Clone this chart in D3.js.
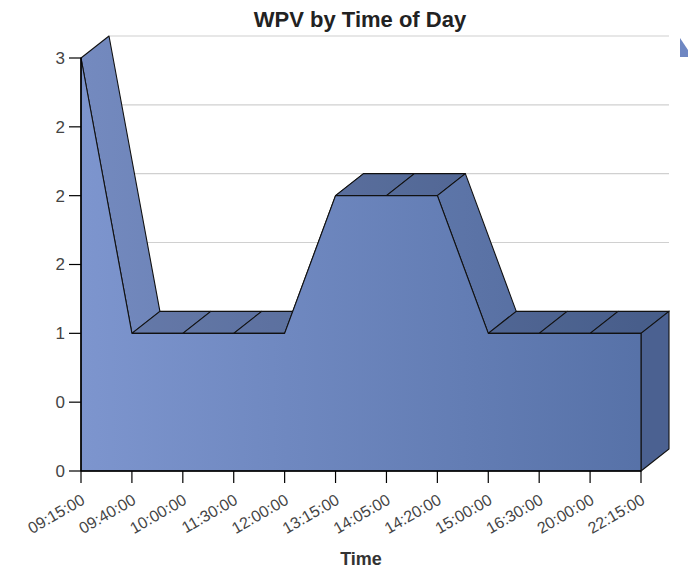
<!DOCTYPE html>
<html>
<head>
<meta charset="utf-8">
<script src="https://cdn.jsdelivr.net/npm/d3@7"></script>
<style>
  body { margin: 0; background: #fff; }
  text { font-family: "Liberation Sans", Arial, sans-serif; }
</style>
</head>
<body>
<div class="canva"></div>
<script>
const times = ['09:15:00', '09:40:00', '10:00:00', '11:30:00', '12:00:00', '13:15:00',
               '14:05:00', '14:20:00', '15:00:00', '16:30:00', '20:00:00', '22:15:00']
const wpv = [3, 1, 1, 1, 1, 2, 2, 2, 1, 1, 1, 1]
const yTicks = [0, 0.5, 1, 1.5, 2, 2.5, 3]
const yTickLabels = ['0', '0', '1', '2', '2', '2', '3']

const width = 688, height = 571
const depth = { x: 28, y: -22 }

const svg = d3.select('.canva').append('svg')
              .attr('width', width)
              .attr('height', height)

const x = d3.scalePoint().domain(times).range([81, 641])
const y = d3.scaleLinear().domain([0, 3]).range([471, 58])

const defs = svg.append('defs')
const grad = defs.append('linearGradient')
                 .attr('id', 'frontGrad')
                 .attr('gradientUnits', 'userSpaceOnUse')
                 .attr('x1', 81).attr('x2', 641 + depth.x)
                 .attr('y1', 0).attr('y2', 0)
grad.append('stop').attr('offset', '0%').attr('stop-color', '#7d95ce')
grad.append('stop').attr('offset', '100%').attr('stop-color', '#5570a6')

// title
svg.append('text')
   .attr('x', 360).attr('y', 27)
   .attr('text-anchor', 'middle')
   .attr('font-size', 22).attr('font-weight', 'bold')
   .attr('fill', '#222')
   .text('WPV by Time of Day')

// back wall grid lines
svg.append('g').selectAll('line')
   .data(yTicks.filter(d => d > 0))
   .enter().append('line')
   .attr('x1', 81 + depth.x).attr('x2', 641 + depth.x)
   .attr('y1', d => y(d) + depth.y).attr('y2', d => y(d) + depth.y)
   .attr('stroke', '#d0d0d0').attr('stroke-width', 1.2)

const pts = times.map((t, i) => [x(t), y(wpv[i])])
const shift = p => [p[0] + depth.x, p[1] + depth.y]

// top faces, left to right
const tops = d3.range(pts.length - 1).map(i => {
  const a = pts[i], b = pts[i + 1]
  return { poly: [a, b, shift(b), shift(a)], flat: wpv[i] === wpv[i + 1] }
})
const topG = svg.append('g')
topG.selectAll('g')
    .data(tops)
    .enter().append('g')
    .each(function(d) {
      const g = d3.select(this)
      const path = 'M' + d.poly.join('L') + 'Z'
      g.append('path').attr('d', path).attr('fill', 'url(#frontGrad)')
      g.append('path').attr('d', path)
       .attr('fill', '#000').attr('fill-opacity', d.flat ? 0.17 : 0.07)
       .attr('stroke', '#111').attr('stroke-width', 1.1).attr('stroke-linejoin', 'round')
    })

// right side face
const last = pts[pts.length - 1]
const base = [last[0], y(0)]
const side = [last, shift(last), shift(base), base]
svg.append('path')
   .attr('d', 'M' + side.join('L') + 'Z')
   .attr('fill', '#4b6191')
   .attr('stroke', '#111').attr('stroke-width', 1.1)

// front face
const area = d3.area()
               .x((d, i) => x(times[i]))
               .y0(y(0))
               .y1(d => y(d))
svg.append('path')
   .datum(wpv)
   .attr('d', area)
   .attr('fill', 'url(#frontGrad)')
   .attr('stroke', '#111').attr('stroke-width', 1.1).attr('stroke-linejoin', 'round')

// y axis
const yAxis = svg.append('g')
yAxis.append('line')
     .attr('x1', 81).attr('x2', 81).attr('y1', y(3)).attr('y2', y(0))
     .attr('stroke', '#000').attr('stroke-width', 1.5)
const yt = yAxis.selectAll('g.tick')
                .data(yTicks)
                .enter().append('g').attr('class', 'tick')
                .attr('transform', d => `translate(81,${y(d)})`)
yt.append('line').attr('x1', -12).attr('x2', 0).attr('stroke', '#000').attr('stroke-width', 1.2)
yt.append('text')
  .attr('x', -16).attr('dy', '0.35em')
  .attr('text-anchor', 'end')
  .attr('font-size', 17).attr('fill', '#444')
  .text((d, i) => yTickLabels[i])

// x axis
const xAxis = svg.append('g')
xAxis.append('line')
     .attr('x1', 81).attr('x2', 641).attr('y1', y(0)).attr('y2', y(0))
     .attr('stroke', '#000').attr('stroke-width', 1.5)
const xt = xAxis.selectAll('g.tick')
                .data(times)
                .enter().append('g').attr('class', 'tick')
                .attr('transform', d => `translate(${x(d)},${y(0)})`)
xt.append('line').attr('y1', 0).attr('y2', 12).attr('stroke', '#000').attr('stroke-width', 1.2)
xt.append('text')
  .attr('transform', 'translate(5,32) rotate(-30)')
  .attr('text-anchor', 'end')
  .attr('font-size', 16).attr('fill', '#444')
  .text(d => d)

svg.append('text')
   .attr('x', 361).attr('y', 565)
   .attr('text-anchor', 'middle')
   .attr('font-size', 18).attr('font-weight', 'bold')
   .attr('fill', '#333')
   .text('Time')

// clipped legend marker at the right edge
svg.append('path')
   .attr('d', 'M680,38L688,50L688,57L680,57Z')
   .attr('fill', '#6f87c2')
</script>
</body>
</html>
